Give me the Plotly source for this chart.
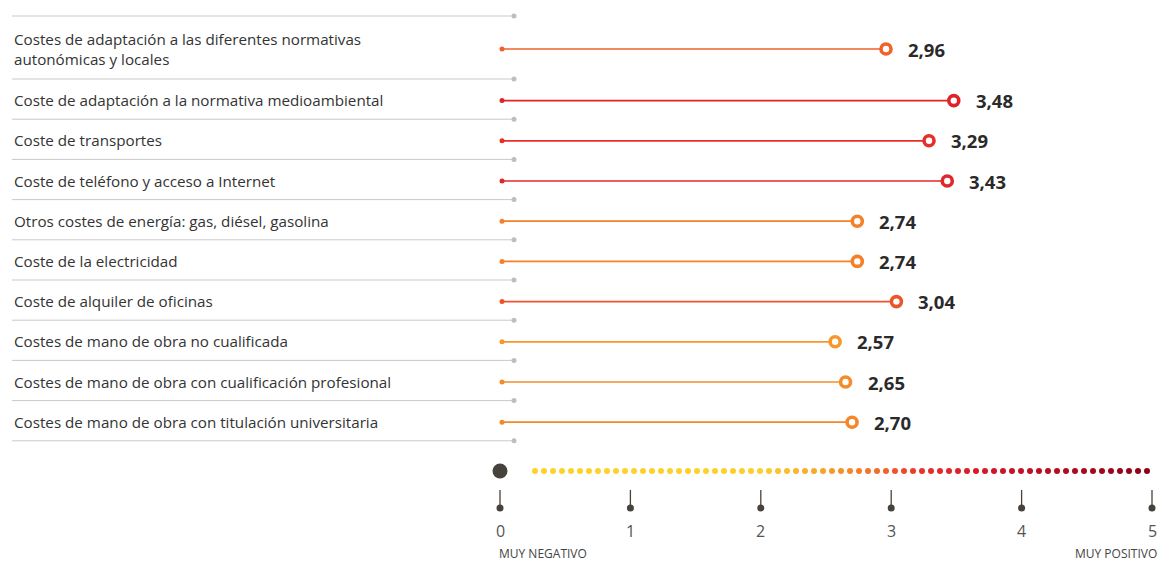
import numpy as np
import plotly.graph_objects as go
from plotly.colors import sample_colorscale

# ---------------- data ----------------
categories = [
    "Costes de adaptación a las diferentes normativas<br>autonómicas y locales",
    "Coste de adaptación a la normativa medioambiental",
    "Coste de transportes",
    "Coste de teléfono y acceso a Internet",
    "Otros costes de energía: gas, diésel, gasolina",
    "Coste de la electricidad",
    "Coste de alquiler de oficinas",
    "Costes de mano de obra no cualificada",
    "Costes de mano de obra con cualificación profesional",
    "Costes de mano de obra con titulación universitaria",
]
values = [2.96, 3.48, 3.29, 3.43, 2.74, 2.74, 3.04, 2.57, 2.65, 2.70]
value_labels = ["2,96", "3,48", "3,29", "3,43", "2,74", "2,74", "3,04", "2,57", "2,65", "2,70"]
tick_values = [0, 1, 2, 3, 4, 5]
tick_labels = ["0", "1", "2", "3", "4", "5"]
scale_ends = ["MUY NEGATIVO", "MUY POSITIVO"]

# ---------------- layout helpers ----------------
W, H = 1160, 563
PX0, PXU = 500, 130.4          # pixel of value 0, pixels per unit


def xv(px):
    return (px - PX0) / PXU


FONT = "Open Sans"
TEXT = "#333333"
DARK = "#47423c"
GRID = "#c9c9cc"

colorscale = [
    [0.0, "#fdd42b"], [0.40, "#fcd02b"], [0.50, "#f8a02a"],
    [0.58, "#f26c28"], [0.65, "#e8302a"], [0.76, "#cf1428"], [1.0, "#8a0016"],
]

row_h = [63 if "<br>" in c else 40.2 for c in categories]
bounds = [16.0]
for h in row_h:
    bounds.append(bounds[-1] + h)
centers = [(bounds[i] + bounds[i + 1]) / 2 for i in range(len(categories))]
line_y = [c + 1.5 for c in centers]

fig = go.Figure()

# separators
sx, sy = [], []
for b in bounds:
    sx += [xv(12), xv(514), None]
    sy += [b, b, None]
fig.add_trace(go.Scatter(x=sx, y=sy, mode="lines", line=dict(color=GRID, width=1),
                         hoverinfo="skip", showlegend=False))
fig.add_trace(go.Scatter(x=[xv(514)] * len(bounds), y=bounds, mode="markers",
                         marker=dict(color="#bdbdc2", size=5), hoverinfo="skip", showlegend=False))

# lollipops
annotations = []
for i, (cat, v, lab) in enumerate(zip(categories, values, value_labels)):
    col = sample_colorscale(colorscale, [v / 5])[0]
    fig.add_trace(go.Scatter(
        x=[xv(502), v], y=[line_y[i], line_y[i]], mode="lines",
        line=dict(color=col, width=1.7),
        hoverinfo="skip", showlegend=False))
    fig.add_trace(go.Scatter(
        x=[xv(502)], y=[line_y[i]], mode="markers",
        marker=dict(size=5, color=col, line=dict(width=0)),
        hoverinfo="skip", showlegend=False))
    fig.add_trace(go.Scatter(
        x=[v], y=[line_y[i]], mode="markers",
        marker=dict(size=10, color="white", line=dict(color=col, width=3.6)),
        hoverinfo="skip", showlegend=False))
    annotations.append(dict(x=v, y=line_y[i], xref="x", yref="y", text=f"<b>{lab}</b>",
                            xanchor="left", yanchor="middle", xshift=20, showarrow=False,
                            font=dict(family=FONT, size=18.5, color="#2a2a2a")))
    annotations.append(dict(x=12 / W, y=centers[i] + 1, xref="paper", yref="y", text=cat,
                            xanchor="left", yanchor="middle", align="left", showarrow=False,
                            font=dict(family=FONT, size=15.2, color=TEXT)))

# bottom scale
SCALE_Y = 471
fig.add_trace(go.Scatter(x=[0], y=[SCALE_Y], mode="markers",
                         marker=dict(color=DARK, size=15), hoverinfo="skip", showlegend=False))
dots = np.arange(xv(535), 5.0001, 9.0 / PXU)
fig.add_trace(go.Scatter(x=dots, y=[SCALE_Y] * len(dots), mode="markers",
                         marker=dict(color=dots, colorscale=colorscale, cmin=0, cmax=5, size=6),
                         hoverinfo="skip", showlegend=False))

tx, ty = [], []
for t in tick_values:
    tx += [t, t, None]
    ty += [490, 506, None]
fig.add_trace(go.Scatter(x=tx, y=ty, mode="lines", line=dict(color=DARK, width=1.3),
                         hoverinfo="skip", showlegend=False))
fig.add_trace(go.Scatter(x=tick_values, y=[508] * len(tick_values), mode="markers",
                         marker=dict(color=DARK, size=7), hoverinfo="skip", showlegend=False))
for t, lab in zip(tick_values, tick_labels):
    annotations.append(dict(x=t, y=531, xref="x", yref="y", text=lab, showarrow=False,
                            xanchor="center", yanchor="middle",
                            font=dict(family=FONT, size=16, color="#555555")))
annotations.append(dict(x=0, y=553.5, xref="x", yref="y", text=scale_ends[0], showarrow=False,
                        xanchor="left", yanchor="middle", xshift=-2, borderpad=0,
                        font=dict(family=FONT, size=12, color="#444444")))
annotations.append(dict(x=5, y=553.5, xref="x", yref="y", text=scale_ends[1], showarrow=False,
                        xanchor="right", yanchor="middle", xshift=6, borderpad=0,
                        font=dict(family=FONT, size=12, color="#444444")))

fig.update_layout(
    width=W, height=H,
    margin=dict(l=0, r=0, t=0, b=0),
    paper_bgcolor="white", plot_bgcolor="white",
    xaxis=dict(range=[xv(0), xv(W)], visible=False, fixedrange=True),
    yaxis=dict(range=[H, 0], visible=False, fixedrange=True),
    annotations=annotations,
    showlegend=False,
)

fig.write_html(
    "out.html",
    config={"displayModeBar": False},
    post_script="document.body.style.margin='0';document.body.style.overflow='hidden';",
)
